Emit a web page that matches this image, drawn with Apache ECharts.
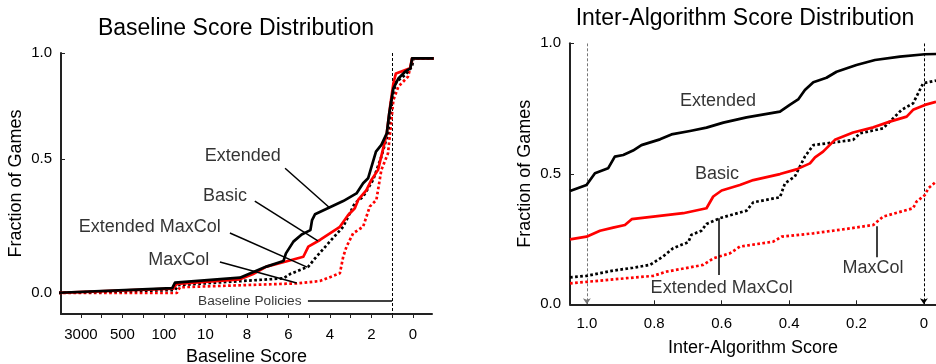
<!DOCTYPE html>
<html><head><meta charset="utf-8">
<script src="https://cdn.jsdelivr.net/npm/echarts@6/dist/echarts.min.js"></script>
<style>html,body{margin:0;padding:0;background:#fff}#c{width:936px;height:364px}</style>
</head><body><div id="c"></div>
<script>
// ---- Left panel: Baseline Score Distribution ----
// Tick labels of the (warped) baseline-score axis, left to right
const baselineTickScores = [3000, 500, 100, 10, 8, 6, 4, 2, 0];
const baselineTickLabels = ['3000', '500', '100', '10', '8', '6', '4', '2', '0'];
const baselinePolicyScore = 1;
// [baseline score, fraction of games]
const baseExtended = [[10000,0],[63,0.02],[54,0.043],[8.34,0.064],[7.06,0.11],[6.24,0.133],[6.12,0.165],[5.76,0.214],[5.36,0.244],[4.94,0.262],[4.86,0.304],[4.72,0.328],[4.0,0.357],[3.36,0.383],[2.72,0.415],[2.4,0.457],[2.16,0.478],[2.04,0.513],[1.78,0.589],[1.52,0.617],[1.26,0.665],[1.14,0.749],[0.94,0.853],[0.7,0.894],[0.38,0.922],[0.12,0.936],[0.04,0.978],[-1,0.978]];
const baseBasic = [[10000,0],[60,0.018],[49,0.0375],[8.34,0.057],[7.7,0.079],[7.06,0.11],[6.16,0.13],[5.28,0.151],[5.04,0.193],[4.48,0.221],[3.52,0.276],[3.12,0.325],[2.8,0.353],[2.64,0.388],[2.24,0.429],[2.0,0.471],[1.68,0.513],[1.26,0.665],[1.1,0.776],[0.94,0.874],[0.82,0.915],[0.14,0.936],[0.04,0.978],[-1,0.978]];
const baseExtMaxCol = [[10000,0],[54,0.0125],[45,0.033],[6.24,0.061],[5.92,0.079],[5.04,0.11],[4.72,0.144],[4.08,0.207],[3.36,0.276],[2.8,0.374],[2.4,0.401],[1.92,0.471],[1.52,0.568],[1.2,0.665],[1.04,0.804],[0.8,0.88],[0.38,0.908],[0.04,0.943],[-0.02,0.978],[-1,0.978]];
const baseMaxCol = [[10000,0],[49,0],[41,0.024],[5.6,0.04],[4.48,0.05],[3.52,0.082],[3.36,0.151],[3.2,0.193],[2.88,0.249],[2.4,0.276],[2.08,0.36],[1.76,0.388],[1.52,0.513],[1.2,0.582],[0.94,0.804],[0.7,0.86],[0.24,0.901],[0,0.978],[-1,0.978]];
// y tick labels of the left panel and where the picture puts them on the axis
const baseFracLabels = ['0.0', '0.5', '1.0'];
const baseFracTickPos = [0, 0.558, 1.0];

// ---- Right panel: Inter-Algorithm Score Distribution ----
const interTicks = [1.0, 0.8, 0.6, 0.4, 0.2, 0];
const interMarkers = [1.0, 0];
// [inter-algorithm score, fraction of games]
const interExtended = [[1.05,0.434],[1.001,0.457],[0.976,0.502],[0.937,0.521],[0.917,0.566],[0.892,0.572],[0.863,0.589],[0.838,0.61],[0.783,0.632],[0.749,0.651],[0.694,0.664],[0.645,0.677],[0.595,0.696],[0.526,0.716],[0.427,0.738],[0.398,0.764],[0.373,0.785],[0.353,0.821],[0.328,0.851],[0.289,0.868],[0.259,0.891],[0.2,0.917],[0.145,0.936],[0.071,0.949],[-0.003,0.958],[-0.036,0.959]];
const interBasic = [[1.05,0.249],[1.001,0.259],[0.961,0.282],[0.922,0.294],[0.887,0.304],[0.867,0.326],[0.803,0.336],[0.714,0.349],[0.645,0.368],[0.625,0.413],[0.6,0.436],[0.546,0.457],[0.506,0.476],[0.427,0.499],[0.378,0.517],[0.338,0.54],[0.323,0.563],[0.299,0.585],[0.264,0.63],[0.21,0.658],[0.15,0.678],[0.101,0.7],[0.051,0.719],[0.032,0.745],[-0.003,0.764],[-0.036,0.776]];
const interExtMaxCol = [[1.05,0.103],[1.001,0.109],[0.922,0.129],[0.863,0.14],[0.813,0.151],[0.774,0.183],[0.744,0.215],[0.699,0.238],[0.69,0.266],[0.66,0.282],[0.645,0.308],[0.605,0.33],[0.526,0.359],[0.506,0.391],[0.427,0.41],[0.412,0.464],[0.383,0.489],[0.353,0.566],[0.328,0.61],[0.21,0.63],[0.19,0.655],[0.121,0.674],[0.066,0.745],[0.032,0.77],[0.002,0.847],[-0.036,0.857]];
const interMaxCol = [[1.05,0.08],[1.001,0.086],[0.882,0.1],[0.803,0.109],[0.764,0.125],[0.655,0.151],[0.625,0.176],[0.576,0.195],[0.546,0.221],[0.447,0.24],[0.422,0.259],[0.328,0.272],[0.229,0.289],[0.15,0.304],[0.121,0.336],[0.032,0.368],[0.022,0.393],[-0.003,0.419],[-0.013,0.444],[-0.036,0.47]];

const fractionTicks = [0, 0.5, 1.0];

// Warp baseline score onto the axis position (tick index): log between 3000..10, linear 10..0
function warp(s) {
  if (s <= 10) {
    const i = baselineTickScores.indexOf(10);
    return i + (10 - s) / 2;
  }
  const logs = [];
  for (let i = 3; i >= 0; i--) logs.push([Math.log10(baselineTickScores[i]), i]);
  const ls = Math.log10(s);
  for (let k = 0; k < logs.length - 1; k++) {
    const [l0, p0] = logs[k], [l1, p1] = logs[k + 1];
    if (ls <= l1 || k === logs.length - 2) {
      return p0 + (ls - l0) / (l1 - l0) * (p1 - p0);
    }
  }
}
const W = arr => arr.map(d => [warp(d[0]), d[1]]);

const FONT = 'Liberation Sans';
const RED = '#ff0000', BLACK = '#000000';
const solid = c => ({ color: c, width: 2.7, type: 'solid', cap: 'butt', join: 'round' });
const dotted = c => ({ color: c, width: 2.7, type: [2.7, 2.4], cap: 'butt' });

function lineSeries(name, data, style, xi) {
  return { name, type: 'line', xAxisIndex: xi, yAxisIndex: xi, data, showSymbol: false, symbol: 'none',
    lineStyle: style, clip: true, animation: false, silent: true, z: 3 };
}

const leftTickPos = baselineTickScores.map((_, i) => i);
const leftMinorPos = [];
for (let v = 0; v <= 8.001; v += 0.5) leftMinorPos.push(+v.toFixed(1));

const axisLineStyle = { color: '#222', width: 2 };

const option = {
  animation: false,
  textStyle: { fontFamily: FONT },
  title: [
    { text: 'Baseline Score Distribution', left: 236, top: 17, textAlign: 'center', padding: 0,
      textStyle: { fontFamily: FONT, fontSize: 23, fontWeight: 'normal', color: '#000' } },
    { text: 'Inter-Algorithm Score Distribution', left: 745, top: 7, textAlign: 'center', padding: 0,
      textStyle: { fontFamily: FONT, fontSize: 23, fontWeight: 'normal', color: '#000' } }
  ],
  grid: [
    { left: 61, top: 53, width: 371, height: 261, outerBoundsMode: 'none', containLabel: false },
    { left: 570, top: 43.3, width: 366, height: 261, outerBoundsMode: 'none', containLabel: false }
  ],
  xAxis: [
    { gridIndex: 0, type: 'value', min: -0.48, max: 8.46,
      axisLine: { show: true, onZero: false, lineStyle: axisLineStyle },
      axisTick: { show: true, inside: false, length: 4, customValues: leftMinorPos, lineStyle: { color: '#222', width: 1 } },
      axisLabel: { customValues: leftTickPos, formatter: v => baselineTickLabels[Math.round(v)], fontSize: 15, color: '#000', margin: 13, fontFamily: FONT },
      splitLine: { show: false },
      name: 'Baseline Score', nameLocation: 'middle', nameGap: 34,
      nameTextStyle: { fontSize: 18, color: '#000', fontFamily: FONT } },
    { gridIndex: 1, type: 'value', min: -0.036, max: 1.05, inverse: true,
      axisLine: { show: true, onZero: false, lineStyle: axisLineStyle },
      axisTick: { show: true, inside: true, length: 4, customValues: interTicks, lineStyle: { color: '#222', width: 1 } },
      axisLabel: { customValues: interTicks, formatter: v => (v === 0 ? '0' : v.toFixed(1)), fontSize: 15, color: '#000', margin: 12, fontFamily: FONT },
      splitLine: { show: false },
      name: 'Inter-Algorithm Score', nameLocation: 'middle', nameGap: 35,
      nameTextStyle: { fontSize: 18, color: '#000', fontFamily: FONT } }
  ],
  yAxis: [
    { gridIndex: 0, type: 'value', min: -0.0875, max: 1,
      axisLine: { show: true, onZero: false, lineStyle: axisLineStyle },
      axisTick: { show: true, inside: true, length: 4, customValues: baseFracTickPos, lineStyle: { color: '#222', width: 1 } },
      axisLabel: { customValues: baseFracTickPos, formatter: v => baseFracLabels[baseFracTickPos.indexOf(v)], fontSize: 15, color: '#000', margin: 9, fontFamily: FONT },
      splitLine: { show: false },
      name: 'Fraction of Games', nameLocation: 'middle', nameGap: 36, nameRotate: 90,
      nameTextStyle: { fontSize: 18, color: '#000', fontFamily: FONT } },
    { gridIndex: 1, type: 'value', min: 0, max: 1,
      axisLine: { show: true, onZero: false, lineStyle: axisLineStyle },
      axisTick: { show: true, inside: true, length: 4, customValues: fractionTicks, lineStyle: { color: '#222', width: 1 } },
      axisLabel: { customValues: fractionTicks, formatter: v => v.toFixed(1), fontSize: 15, color: '#000', margin: 9, fontFamily: FONT },
      splitLine: { show: false },
      name: 'Fraction of Games', nameLocation: 'middle', nameGap: 36, nameRotate: 90,
      nameTextStyle: { fontSize: 18, color: '#000', fontFamily: FONT } }
  ],
  series: [
    // left panel
    lineSeries('MaxCol', W(baseMaxCol), dotted(RED), 0),
    lineSeries('Extended MaxCol', W(baseExtMaxCol), dotted(BLACK), 0),
    lineSeries('Basic', W(baseBasic), solid(RED), 0),
    lineSeries('Extended', W(baseExtended), solid(BLACK), 0),
    // right panel
    lineSeries('MaxCol', interMaxCol, dotted(RED), 1),
    lineSeries('Extended MaxCol', interExtMaxCol, dotted(BLACK), 1),
    lineSeries('Basic', interBasic, solid(RED), 1),
    lineSeries('Extended', interExtended, solid(BLACK), 1),
    // left: baseline policies marker
    { type: 'lines', coordinateSystem: 'cartesian2d', xAxisIndex: 0, yAxisIndex: 0, silent: true, animation: false, z: 2,
      lineStyle: { color: '#000', width: 1, type: [3, 2], opacity: 1 },
      data: [{ coords: [[warp(baselinePolicyScore), 1], [warp(baselinePolicyScore), -0.0875]] }] },
    // left: leader lines
    { type: 'lines', coordinateSystem: 'cartesian2d', xAxisIndex: 0, yAxisIndex: 0, silent: true, animation: false, z: 4,
      lineStyle: { color: '#000', width: 1.5, type: 'solid', opacity: 1 },
      data: [
        { coords: [[4.92, 0.52], [6.0, 0.354]] },
        { coords: [[4.19, 0.383], [5.71, 0.217]] },
        { coords: [[3.59, 0.25], [5.45, 0.108]] },
        { coords: [[3.35, 0.129], [5.2, 0.042]] },
        { coords: [[5.47, -0.033], [warp(baselinePolicyScore), -0.033]] }
      ] },
    // left: annotation texts
    { type: 'scatter', xAxisIndex: 0, yAxisIndex: 0, symbolSize: 1, silent: true, animation: false, z: 5,
      itemStyle: { color: 'rgba(0,0,0,0)' },
      label: { show: true, position: 'inside', fontSize: 18, color: '#000', fontFamily: FONT },
      data: [
        { value: [3.9, 0.571], label: { formatter: 'Extended' } },
        { value: [3.47, 0.404], label: { formatter: 'Basic' } },
        { value: [1.66, 0.275], label: { formatter: 'Extended MaxCol' } },
        { value: [2.36, 0.1375], label: { formatter: 'MaxCol' } },
        { value: [4.07, -0.033], label: { formatter: 'Baseline Policies', fontSize: 13.7 } }
      ] },
    // right: marker lines with arrows
    { type: 'lines', coordinateSystem: 'cartesian2d', xAxisIndex: 1, yAxisIndex: 1, silent: true, animation: false, z: 2,
      symbol: ['none', 'arrow'], symbolSize: 6,
      data: [
        { coords: [[interMarkers[0], 1], [interMarkers[0], 0]], lineStyle: { color: '#777', width: 1, type: [3, 2], opacity: 1 } },
        { coords: [[interMarkers[1], 1], [interMarkers[1], 0]], lineStyle: { color: '#000', width: 1, type: [3, 2], opacity: 1 } }
      ] },
    // right: leader lines
    { type: 'lines', coordinateSystem: 'cartesian2d', xAxisIndex: 1, yAxisIndex: 1, silent: true, animation: false, z: 4,
      lineStyle: { color: '#000', width: 1.5, type: 'solid', opacity: 1 },
      data: [
        { coords: [[0.608, 0.33], [0.608, 0.112]] },
        { coords: [[0.139, 0.299], [0.139, 0.18]] }
      ] },
    // right: annotation texts
    { type: 'scatter', xAxisIndex: 1, yAxisIndex: 1, symbolSize: 1, silent: true, animation: false, z: 5,
      itemStyle: { color: 'rgba(0,0,0,0)' },
      label: { show: true, position: 'inside', fontSize: 18, color: '#000', fontFamily: FONT },
      data: [
        { value: [0.611, 0.778], label: { formatter: 'Extended' } },
        { value: [0.614, 0.498], label: { formatter: 'Basic' } },
        { value: [0.6, 0.063], label: { formatter: 'Extended MaxCol' } },
        { value: [0.151, 0.139], label: { formatter: 'MaxCol' } }
      ] }
  ]
};

const chart = echarts.init(document.getElementById('c'), null, { renderer: 'canvas', width: 936, height: 364 });
chart.setOption(option);
</script>
</body></html>
